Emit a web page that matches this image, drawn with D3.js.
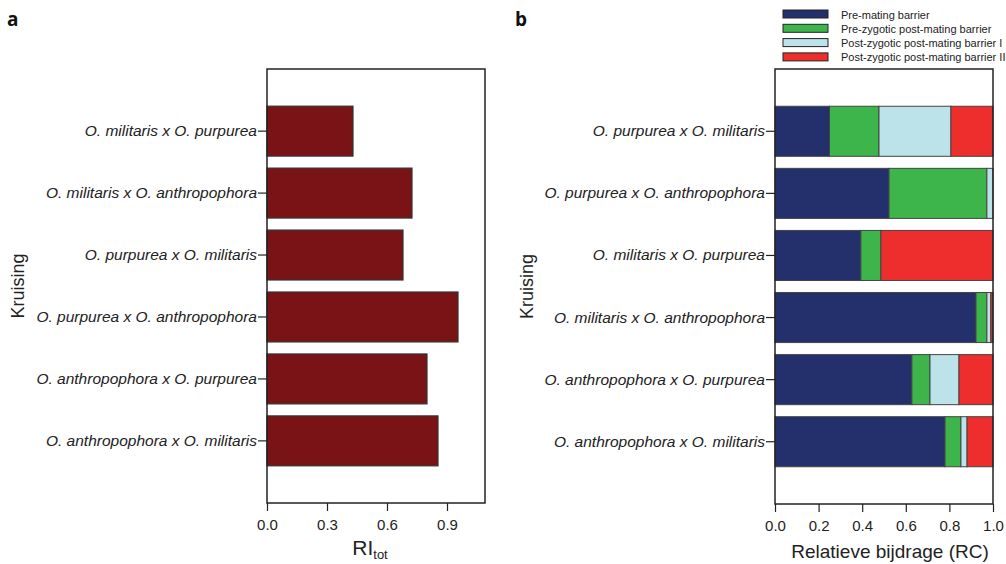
<!DOCTYPE html>
<html>
<head>
<meta charset="utf-8">
<script src="https://cdnjs.cloudflare.com/ajax/libs/d3/7.8.5/d3.min.js"></script>
<style>
  body { margin: 0; background: #fff; }
  svg { font-family: "Liberation Sans", Arial, sans-serif; }
</style>
</head>
<body>
<svg id="chart" width="1006" height="564"></svg>
<script>
"use strict";

// panel a: total reproductive isolation
var crossesA = [
    "O. militaris x O. purpurea",
    "O. militaris x O. anthropophora",
    "O. purpurea x O. militaris",
    "O. purpurea x O. anthropophora",
    "O. anthropophora x O. purpurea",
    "O. anthropophora x O. militaris"
];
var riTot = [0.43, 0.725, 0.68, 0.955, 0.80, 0.855];
var ticksA = [0, 0.3, 0.6, 0.9];

// panel b: relative contribution of each barrier
var crossesB = [
    "O. purpurea x O. militaris",
    "O. purpurea x O. anthropophora",
    "O. militaris x O. purpurea",
    "O. militaris x O. anthropophora",
    "O. anthropophora x O. purpurea",
    "O. anthropophora x O. militaris"
];
var barrierNames = [
    "Pre-mating barrier",
    "Pre-zygotic post-mating barrier",
    "Post-zygotic post-mating barrier I",
    "Post-zygotic post-mating barrier II"
];
var preMating   = [0.25, 0.523, 0.394, 0.922, 0.628, 0.78];
var preZygotic  = [0.227, 0.449, 0.092, 0.05, 0.083, 0.073];
var postZygotI  = [0.33, 0.028, 0, 0.018, 0.133, 0.028];
var postZygotII = [0.193, 0, 0.514, 0.01, 0.156, 0.119];
var barrierColors = ["#24306b", "#3db54a", "#bde3ea", "#ee2e2c"];
var ticksB = [0, 0.2, 0.4, 0.6, 0.8, 1.0];

var svg = d3.select("#chart");
var FONT = "'Liberation Sans', Arial, sans-serif";

//====================================
// shared helpers
function bandScale(domain, top, bottom){
    return d3.scaleBand()
        .domain(domain)
        .range([top, bottom])
        .paddingInner(0.194)
        .paddingOuter(0.6);
}

function drawFrame(g, x, y, left, right, top, bottom, ticks, fmt){
    // box
    g.append("rect")
        .attr("x", left).attr("y", top)
        .attr("width", right - left).attr("height", bottom - top)
        .attr("fill", "none").attr("stroke", "#222").attr("stroke-width", 1.5);

    // x axis
    var xAxis = g.append("g")
        .attr("transform", "translate(0," + bottom + ")")
        .call(d3.axisBottom(x).tickValues(ticks).tickFormat(fmt).tickSize(8).tickPadding(8));
    xAxis.select(".domain").remove();
    xAxis.selectAll("line").attr("stroke", "#222").attr("stroke-width", 1.2);
    xAxis.selectAll("text")
        .attr("font-size", 15).attr("fill", "#222")
        .attr("font-family", FONT);

    // y axis
    var yAxis = g.append("g")
        .attr("transform", "translate(" + left + ",0)")
        .call(d3.axisLeft(y).tickSize(9).tickPadding(1));
    yAxis.select(".domain").remove();
    yAxis.selectAll("line").attr("stroke", "#222").attr("stroke-width", 1.2);
    yAxis.selectAll("text")
        .attr("font-size", 15.5).attr("font-style", "italic").attr("fill", "#222")
        .attr("font-family", FONT);
}

//====================================
// panel a
var aLeft = 267, aRight = 485, aTop = 69, aBottom = 503;
var xA = d3.scaleLinear().domain([0, 1.09]).range([aLeft, aRight]);
var yA = bandScale(crossesA, aTop, aBottom);
var gA = svg.append("g");

gA.selectAll("rect.bar")
    .data(crossesA)
    .enter().append("rect")
    .attr("class", "bar")
    .attr("x", xA(0))
    .attr("y", function(d){ return yA(d); })
    .attr("width", function(d, i){ return xA(riTot[i]) - xA(0); })
    .attr("height", yA.bandwidth())
    .attr("fill", "#7a1315")
    .attr("stroke", "#333")
    .attr("stroke-width", 1.2);

drawFrame(gA, xA, yA, aLeft, aRight, aTop, aBottom, ticksA, d3.format(".1f"));

var riLabel = gA.append("text")
    .attr("x", (aLeft + aRight) / 2 - 6).attr("y", 555)
    .attr("text-anchor", "middle").attr("font-size", 21).attr("fill", "#222");
riLabel.append("tspan").text("RI");
riLabel.append("tspan").attr("font-size", 13).attr("dy", 4).text("tot");

gA.append("text")
    .attr("transform", "translate(24," + ((aTop + aBottom) / 2) + ") rotate(-90)")
    .attr("text-anchor", "middle").attr("font-size", 18).attr("fill", "#222")
    .text("Kruising");

gA.append("text")
    .attr("x", 7).attr("y", 26)
    .attr("font-size", 19).attr("font-weight", "bold").attr("fill", "#111")
    .attr("font-family", "'Open Sans', sans-serif")
    .text("a");

//====================================
// panel b
var bLeft = 775, bRight = 993, bTop = 69, bBottom = 504;
var xB = d3.scaleLinear().domain([0, 1]).range([bLeft, bRight]);
var yB = bandScale(crossesB, bTop, bBottom);
var gB = svg.append("g");

var rows = crossesB.map(function(c, i){
    return { cross: c, b0: preMating[i], b1: preZygotic[i], b2: postZygotI[i], b3: postZygotII[i] };
});
var stack = d3.stack().keys(["b0", "b1", "b2", "b3"]);
var layers = stack(rows);

gB.selectAll("g.layer")
    .data(layers)
    .enter().append("g")
    .attr("class", "layer")
    .attr("fill", function(d, i){ return barrierColors[i]; })
    .selectAll("rect")
    .data(function(d){ return d.filter(function(s){ return s[1] - s[0] > 0; }); })
    .enter().append("rect")
    .attr("x", function(s){ return xB(s[0]); })
    .attr("y", function(s){ return yB(s.data.cross); })
    .attr("width", function(s){ return xB(s[1]) - xB(s[0]); })
    .attr("height", yB.bandwidth())
    .attr("stroke", "#444")
    .attr("stroke-width", 1);

drawFrame(gB, xB, yB, bLeft, bRight, bTop, bBottom, ticksB, d3.format(".1f"));

gB.append("text")
    .attr("x", (bLeft + bRight) / 2 + 6).attr("y", 558)
    .attr("text-anchor", "middle").attr("font-size", 19).attr("fill", "#222")
    .text("Relatieve bijdrage (RC)");

gB.append("text")
    .attr("transform", "translate(533," + ((bTop + bBottom) / 2) + ") rotate(-90)")
    .attr("text-anchor", "middle").attr("font-size", 18).attr("fill", "#222")
    .text("Kruising");

gB.append("text")
    .attr("x", 515).attr("y", 26)
    .attr("font-size", 19).attr("font-weight", "bold").attr("fill", "#111")
    .attr("font-family", "'Open Sans', sans-serif")
    .text("b");

// legend
var legend = gB.selectAll("g.legend")
    .data(barrierNames)
    .enter().append("g")
    .attr("class", "legend")
    .attr("transform", function(d, i){ return "translate(783," + (10 + i * 14.3) + ")"; });
legend.append("rect")
    .attr("width", 45).attr("height", 8)
    .attr("fill", function(d, i){ return barrierColors[i]; })
    .attr("stroke", "#222").attr("stroke-width", 1);
legend.append("text")
    .attr("x", 58).attr("y", 8.5)
    .attr("font-size", 11).attr("fill", "#222")
    .text(function(d){ return d; });
</script>
</body>
</html>
